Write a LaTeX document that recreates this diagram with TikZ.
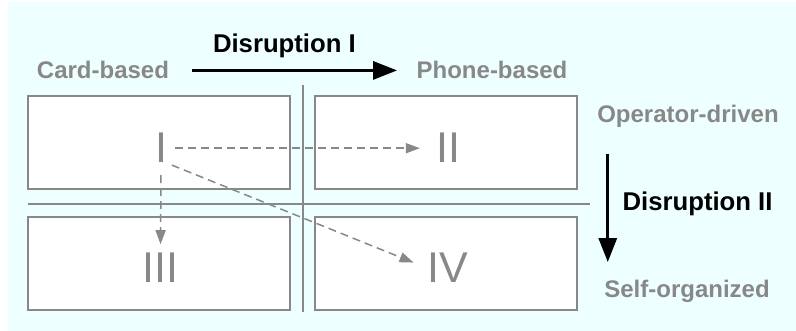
\documentclass[tikz,border=0pt]{standalone}
\usepackage{fontspec}
\setmainfont{Liberation Sans}
\usetikzlibrary{arrows.meta, positioning}
\definecolor{bgcyan}{RGB}{238,255,255}
\definecolor{labelgray}{RGB}{136,136,136}

\tikzset{
    cell/.style={draw=labelgray, fill=white, line width=1.5pt, inner sep=0pt,
        minimum width=262pt, minimum height=93pt},
    axislabel/.style={anchor=base, text=labelgray, font=\fontsize{24}{28}\selectfont\bfseries},
    numeral/.style={anchor=base, inner sep=0pt, text=labelgray, font=\fontsize{43}{48}\selectfont},
    flow/.style={draw=labelgray, line width=1.5pt, dash pattern=on 8pt off 5pt,
        -{Triangle[length=14pt,width=10pt]}},
    disrupt/.style={line width=3pt, -{Triangle[length=24pt,width=18pt]}},
    disruptlabel/.style={font=\fontsize{25.7}{30}\selectfont\bfseries}
}

\begin{document}
\begin{tikzpicture}[x=1pt, y=-1pt]
    \useasboundingbox (0,0) rectangle (796,331);
    \fill[bgcyan] (8,2) rectangle (796,331);

    % Quadrants
    \draw[labelgray, line width=1.5pt] (303,85) -- (303,312);
    \draw[labelgray, line width=1.5pt] (28,204) -- (590,204);
    \foreach \n/\x/\y in {1/159/142.5, 2/446/142.5, 3/159/263.5, 4/446/263.5} {
        \node[cell] (b\n) at (\x,\y) {};
    }

    % Axis labels
    \node[axislabel] (card) at (103,79) {Card-based};
    \node[axislabel] (phone) at (492,79) {Phone-based};
    \node[axislabel] (opdrv) at (688,123) {Operator-driven};
    \node[axislabel] (selforg) at (687,298) {Self-organized};

    % Disruptions
    \draw[disrupt, shorten <=19pt, shorten >=16pt] (card.east) -- (phone.west)
        node[pos=0.465, above=8pt, disruptlabel] {Disruption I};
    \draw[disrupt, shorten <=22pt, shorten >=15pt] ([xshift=14pt]opdrv.south west)
        -- ([xshift=14pt]opdrv.south west |- selforg.north)
        node[midway, right=10pt, disruptlabel] {Disruption II};

    % Roman numerals
    \node[numeral] (I) at (161,163) {I};
    \node[numeral] (II) at (448,163) {II};
    \node[numeral] (III) at (160.5,283) {III};
    \node[numeral] (IV) at (448,283) {IV};

    % Transitions
    \draw[flow, shorten <=8pt, shorten >=16pt] (I.east) -- (II.west);
    \draw[flow, shorten <=12pt, shorten >=9pt] (I.south) -- (III.north);
    \draw[flow, shorten <=5pt, shorten >=15pt] (I.south east) -- (IV.west);
\end{tikzpicture}
\end{document}
